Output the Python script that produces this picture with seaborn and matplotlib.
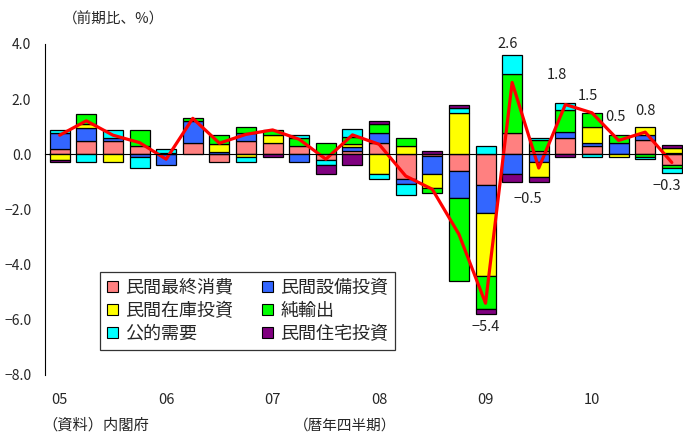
import matplotlib
matplotlib.use("Agg")

import matplotlib.pyplot as plt
import numpy as np
import pandas as pd
import seaborn as sns

# quarters 2005Q1 .. 2010Q4
quarters = [f"{y}Q{q}" for y in range(2005, 2011) for q in range(1, 5)]
year_labels = ["05", "06", "07", "08", "09", "10"]

consumption = [0.18, 0.48, 0.48, 0.28, 0.0, 0.39, -0.3, 0.48, 0.4, 0.28, -0.2, 0.12,
               0.39, -0.9, -0.08, -0.6, -1.12, 0.78, 0.1, 0.57, 0.3, 0.0, 0.5, -0.39]
capex = [0.6, 0.48, 0.1, -0.1, -0.4, 0.82, 0.08, 0.3, 0.0, -0.3, 0.0, 0.15,
         0.37, -0.18, -0.65, -1.0, -1.0, -0.72, -0.28, 0.22, 0.1, 0.4, 0.18, 0.06]
inventory = [-0.2, 0.14, -0.3, 0.0, 0.06, 0.0, 0.3, -0.1, 0.29, 0.0, 0.0, 0.1,
             -0.72, 0.28, -0.48, 1.49, -2.3, 0.0, -0.54, 0.0, 0.6, -0.1, 0.3, 0.18]
net_exports = [0.0, 0.37, 0.0, 0.6, 0.0, 0.1, 0.3, 0.2, 0.19, 0.3, 0.39, 0.25,
               0.33, 0.3, -0.18, -3.0, -1.2, 2.11, 0.4, 0.8, 0.5, 0.29, -0.1, -0.1]
public_demand = [0.1, -0.3, 0.3, -0.4, 0.12, 0.0, 0.0, -0.2, 0.0, 0.1, -0.2, 0.3,
                 -0.18, -0.4, 0.0, 0.2, 0.28, 0.7, 0.08, 0.28, -0.1, 0.0, -0.08, -0.2]
housing = [-0.1, 0.0, 0.0, 0.0, 0.0, 0.0, 0.0, 0.0, -0.1, 0.0, -0.3, -0.39,
           0.1, 0.0, 0.1, 0.1, -0.18, -0.28, -0.18, -0.1, 0.0, 0.0, 0.0, 0.1]
gdp_growth = [0.69, 1.21, 0.69, 0.42, -0.18, 1.3, 0.4, 0.72, 0.88, 0.54, -0.18, 0.7,
              0.36, -0.79, -1.27, -2.9, -5.4, 2.6, -0.5, 1.8, 1.5, 0.5, 0.8, -0.3]

component_names = ["民間最終消費", "民間設備投資", "民間在庫投資", "純輸出", "公的需要", "民間住宅投資"]
component_colors = ["#FF8080", "#3366FF", "#FFFF00", "#00FF00", "#00FFFF", "#800080"]

# labelled quarters (from 2009Q1) and text offsets in points
labelled = list(range(16, 24))
label_offsets = [(0, -17), (-3, 28), (-8, -22), (-6, 21), (-3, 12), (-2, 17), (0, 15), (-4, -17)]

sns.set_style("white")
plt.rcParams["font.family"] = ["Noto Sans CJK JP", "DejaVu Sans"]

fig = plt.figure(figsize=(6.83, 4.34), dpi=100)
ax = fig.add_axes([0.066, 0.136, 0.934, 0.763])

x = np.arange(len(quarters))
pos_base = np.zeros(len(quarters))
neg_base = np.zeros(len(quarters))
components = [consumption, capex, inventory, net_exports, public_demand, housing]

for vals, name, color in zip(components, component_names, component_colors):
    v = np.array(vals)
    pos = np.where(v > 0, v, 0)
    neg = np.where(v < 0, v, 0)
    m = pos > 0
    ax.bar(x[m], pos[m], bottom=pos_base[m], width=0.75, color=color,
           edgecolor="black", linewidth=0.9, zorder=2)
    m = neg < 0
    ax.bar(x[m], neg[m], bottom=neg_base[m], width=0.75, color=color,
           edgecolor="black", linewidth=0.9, zorder=2)
    pos_base += pos
    neg_base += neg
    ax.bar([0], [0], color=color, edgecolor="black", linewidth=0.8, label=name)

df = pd.DataFrame({"x": x, "growth": gdp_growth})
sns.lineplot(data=df, x="x", y="growth", ax=ax, color="#FF0000", linewidth=2.3, zorder=4)

for i, (dx, dy) in zip(labelled, label_offsets):
    ax.annotate(f"{gdp_growth[i]:.1f}".replace("-", "\u2212"), xy=(i, gdp_growth[i]),
                xytext=(dx, dy), textcoords="offset points",
                ha="center", va="center", fontsize=10.5, color="#222222")

ax.set_xlim(-0.55, 23.42)
ax.set_ylim(-8, 4)
ax.set_yticks(np.arange(-8, 4.1, 2))
ax.set_yticklabels([f"{t:.1f}".replace("-", "\u2212") for t in np.arange(-8, 4.1, 2)])
ax.tick_params(axis="y", direction="in", length=5, width=1, labelsize=10, pad=10, color="black")

# zero axis with boundary ticks
ax.spines["bottom"].set_position(("data", 0))
ax.spines["bottom"].set_zorder(5)
ax.set_xticks(np.arange(0.5, 23.5, 1))
ax.set_xticklabels([])
ax.tick_params(axis="x", direction="in", length=5, width=0.8, color="#333333")
for s in ["top", "right"]:
    ax.spines[s].set_visible(False)
ax.spines["left"].set_color("black")
ax.spines["bottom"].set_color("black")
ax.set_xlabel("")
ax.set_ylabel("")

sec = ax.secondary_xaxis(0)
sec.set_xticks(x[::4])
sec.set_xticklabels(year_labels)
sec.tick_params(length=0, pad=13, labelsize=10.5)
sec.spines["bottom"].set_visible(False)

handles, labels = ax.get_legend_handles_labels()
order = [0, 2, 4, 1, 3, 5]
leg = ax.legend([handles[k] for k in order], [labels[k] for k in order], ncol=2,
                loc="lower left", bbox_to_anchor=(0.086, 0.075), borderaxespad=0,
                fontsize=13, handlelength=0.6, handleheight=0.6, handletextpad=0.4,
                labelspacing=0.28, columnspacing=1.6, fancybox=False, framealpha=1,
                edgecolor="#333333", borderpad=0.4)
leg.get_frame().set_linewidth(0.9)

fig.text(0.092, 0.955, "（前期比、%）", fontsize=10.5, va="center")
fig.text(0.062, 0.02, "（資料）内閣府", fontsize=11, va="center")
fig.text(0.43, 0.02, "（暦年四半期）", fontsize=10.5, va="center")

fig.savefig("out.png", dpi=100)
